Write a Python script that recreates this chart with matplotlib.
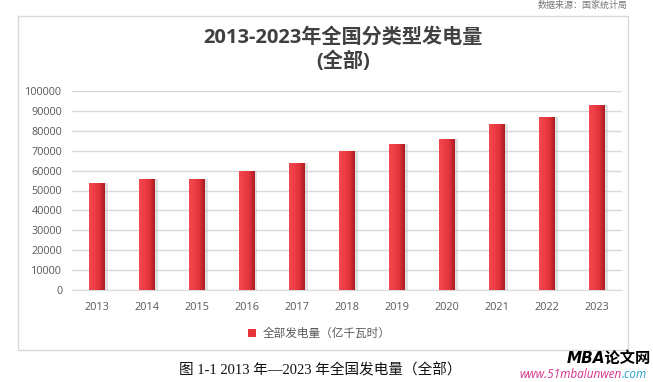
import numpy as np
import matplotlib.pyplot as plt
from matplotlib.patches import Rectangle
from matplotlib.colors import LinearSegmentedColormap

# data (亿千瓦时)
years = ['2013', '2014', '2015', '2016', '2017', '2018', '2019', '2020', '2021', '2022', '2023']
power = [53700, 55600, 56000, 59800, 64000, 69800, 73300, 76000, 83600, 86800, 92800]
yticks = list(range(0, 100001, 10000))

cjk = ['Open Sans', 'Noto Sans CJK SC', 'DejaVu Sans']
plt.rcParams['font.family'] = cjk

fig = plt.figure(figsize=(6.53, 3.82), dpi=100)
W, H = 653, 382

# chart frame
fig.patches.append(Rectangle((18 / W, 1 - 350 / H), 610 / W, 334 / H,
                             transform=fig.transFigure, fill=False,
                             edgecolor='#d9d9d9', linewidth=1))

ax = fig.add_axes([72 / W, 1 - 290 / H, 550 / W, 199 / H])
x = np.arange(len(years))

# soft shadow
ax.bar(x + 0.05, power, width=0.32, color='#bdbdbd', alpha=0.45, zorder=2)
bars = ax.bar(x, power, width=0.32, color='#e8333a', zorder=3)

cmap = LinearSegmentedColormap.from_list('red', ['#f04a50', '#ee3d44', '#e0323a', '#a91c22'])
grad = np.linspace(0, 1, 64).reshape(1, -1)
for b in bars:
    x0, y0 = b.get_x(), b.get_y()
    im = ax.imshow(grad, cmap=cmap, aspect='auto', zorder=4,
                   extent=[x0, x0 + b.get_width(), y0, y0 + b.get_height()])
    im.set_clip_path(b)

ax.set_xlim(-0.5, len(years) - 0.5)
ax.set_ylim(0, 100000)
ax.set_yticks(yticks)
ax.set_yticklabels([str(v) for v in yticks])
ax.set_xticks(x)
ax.set_xticklabels(years)
ax.tick_params(length=0, labelsize=7.8, colors='#595959', pad=7)
ax.tick_params(axis='x', pad=9)
ax.grid(axis='y', color='#d9d9d9', linewidth=1, zorder=0)
ax.set_axisbelow(True)
for s in ['top', 'right', 'left']:
    ax.spines[s].set_visible(False)
ax.spines['bottom'].set_color('#d9d9d9')

# title
fig.text(343 / W, 1 - 38 / H, '2013-2023年全国分类型发电量', ha='center', va='center',
         fontsize=14.5, fontweight='bold', color='#404040')
fig.text(343 / W, 1 - 62 / H, '(全部)', ha='center', va='center',
         fontsize=14.5, fontweight='bold', color='#404040')

# legend
fig.patches.append(Rectangle((248 / W, 1 - 337 / H), 8 / W, 8 / H,
                             transform=fig.transFigure, facecolor='#e8333a',
                             edgecolor='none'))
fig.text(263 / W, 1 - 333 / H, '全部发电量（亿千瓦时）', ha='left', va='center',
         fontsize=8.4, color='#595959', family=['Noto Sans CJK SC'])

# caption
fig.text(320 / W, 1 - 370 / H, '图 1-1 2013 年—2023 年全国发电量（全部）', ha='center',
         va='center', fontsize=10.5, color='#111111',
         family=['Liberation Serif', 'Noto Sans CJK SC'])

# top-right note
fig.text(628 / W, 0.999, '数据来源：国家统计局', ha='right', va='top',
         fontsize=6.5, color='#777777', family=['Noto Sans CJK SC'])

# watermark
fig.text(651 / W, 1 - 358 / H, 'MBA论文网', ha='right', va='center', fontsize=11,
         fontweight='bold', style='italic', color='black',
         family=['DejaVu Sans', 'Noto Sans CJK SC'])
fig.text(622 / W, 1 - 375 / H, 'www.51mbalunwen', ha='right', va='center', fontsize=8.5,
         style='italic', color='#d6338a')
fig.text(622 / W, 1 - 375 / H, '.com', ha='left', va='center', fontsize=8.5,
         style='italic', color='#2aa0d0')

fig.savefig('out.png', dpi=100)
